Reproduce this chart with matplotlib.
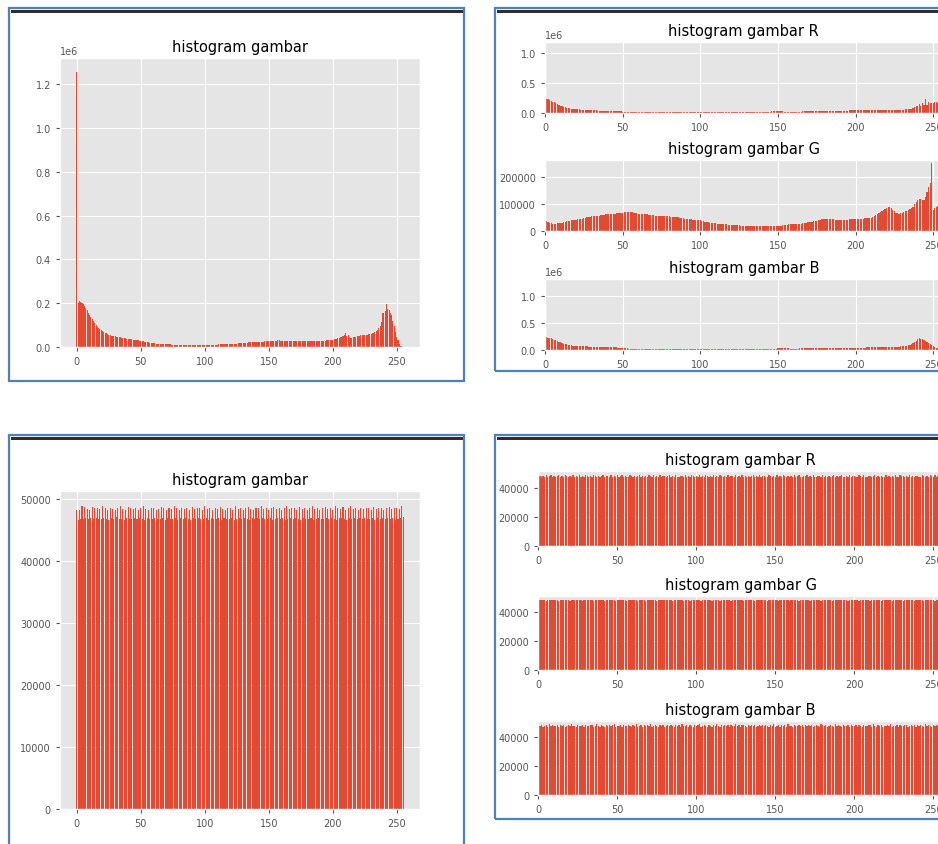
import matplotlib
matplotlib.use('Agg')
import matplotlib.pyplot as plt
from matplotlib.patches import Rectangle
import numpy as np

plt.style.use('ggplot')
plt.rcParams['font.family'] = ['DejaVu Sans']

# ---------------- data ----------------
x_ticks = [0, 50, 100, 150, 200, 250]

# grayscale histogram of original image (thousands of pixels)
gray_k = [1255,203,213,208,202,198,190,180,170,158,
147,138,130,120,110,100,93,87,82,77,
72,69,66,63,60,57,55,53,52,51,
50,49,48,47,46,44,43,42,41,40,
38,37,37,36,35,34,33,32,31,30,
29,28,27,26,25,23,22,21,20,19,
18,18,17,16,16,15,15,15,14,14,
14,13,13,13,12,12,12,12,11,11,
11,11,11,11,11,10,10,10,10,10,
10,10,10,10,10,10,10,10,10,10,
10,11,11,11,11,11,12,12,12,12,
12,13,13,13,13,14,14,14,15,15,
15,16,16,16,17,17,18,18,19,19,
20,20,21,21,22,22,23,23,24,24,
24,25,25,25,26,26,26,27,27,27,
28,28,28,29,29,30,30,31,31,30,
30,30,29,29,29,28,28,28,28,28,
27,27,27,27,27,27,27,27,27,27,
27,27,27,27,27,27,28,28,28,28,
29,29,30,30,30,31,31,32,32,33,
34,36,38,40,42,44,46,48,52,58,
66,50,58,45,44,44,45,46,48,50,
51,52,54,55,56,56,57,58,59,60,
62,64,66,70,74,78,88,95,115,158,
155,165,198,175,168,158,145,120,95,70,
48,32,16,8,4,2]

# R channel (thousands)
red_k = [250,242,232,220,206,192,178,163,149,136,
124,113,104,96,89,83,78,73,69,66,
63,61,59,57,55,53,51,49,47,46,
45,44,43,42,41,40,39,38,37,36,
35,34,33,32,31,30,29,28,27,26,
23,21,20,19,18,17,17,16,16,15,
15,14,14,14,13,13,13,13,12,12,
12,12,12,12,11,11,11,11,11,11,
11,11,11,11,11,11,11,11,11,11,
11,11,11,11,11,11,11,11,11,11,
11,11,11,12,12,12,12,12,12,12,
12,12,13,13,13,13,13,14,14,14,
14,15,15,15,16,16,16,17,17,17,
18,18,19,19,20,20,21,21,22,22,
23,23,24,24,25,25,26,26,26,27,
27,27,26,26,25,24,23,22,22,21,
21,21,22,23,24,25,26,27,28,29,
30,31,32,33,34,35,35,36,36,36,
36,36,36,35,35,35,35,36,36,37,
37,38,38,39,40,41,42,43,44,45,
46,47,48,49,50,50,51,52,52,53,
53,53,54,54,54,55,55,55,56,56,
56,56,56,57,57,57,57,58,58,58,
58,58,59,60,62,65,70,80,95,110,
120,150,110,160,140,230,130,190,175,170,
175,180,180,175,175,1125]

# G channel (thousands)
green_k = [42,38,33,30,28,27,27,27,28,29,
30,31,32,33,35,37,38,39,40,41,
42,43,44,45,46,48,49,50,51,52,
54,55,55,56,56,57,58,59,60,62,
62,63,63,64,64,64,65,66,67,68,
68,69,70,70,70,69,69,68,67,66,
64,64,63,63,62,62,61,60,59,58,
58,57,57,56,56,56,55,55,54,54,
54,53,53,52,52,51,50,49,48,47,
46,45,44,44,43,42,42,41,40,40,
40,38,36,34,33,32,31,30,29,28,
28,27,27,26,25,25,24,24,23,22,
22,22,21,21,21,21,20,20,19,19,
18,18,18,18,18,18,18,18,18,18,
18,18,18,18,18,18,18,18,18,18,
18,19,20,21,22,22,23,24,25,25,
25,26,26,27,27,27,28,29,31,32,
32,33,34,35,36,37,39,41,43,44,
44,44,44,43,43,43,43,42,42,42,
42,42,42,42,42,42,43,43,44,44,
44,45,45,45,46,46,47,47,47,48,
48,50,54,58,62,66,70,74,77,82,
86,89,89,84,79,72,67,65,64,65,
68,70,72,75,77,80,84,88,100,106,
114,116,116,113,114,126,142,163,175,249,
78,83,89,92,95,98]

# B channel (thousands)
blue_k = [225,228,222,215,208,198,188,175,160,150,
138,125,115,105,98,92,86,81,77,74,
72,70,68,66,64,62,61,60,58,57,
56,55,55,54,54,53,52,51,50,49,
48,47,46,45,44,43,41,39,37,34,
31,28,26,24,22,20,19,18,17,16,
15,15,14,14,13,13,13,12,12,12,
12,12,12,12,12,12,12,12,12,12,
13,13,13,13,13,13,13,13,13,13,
13,13,13,13,13,13,13,13,13,13,
13,13,13,13,13,13,13,13,13,13,
13,13,13,13,14,14,14,14,14,14,
14,14,14,15,15,15,15,15,15,15,
16,16,16,16,17,17,17,17,18,18,
18,19,19,19,20,20,20,21,21,22,
24,24,25,25,24,24,23,23,22,22,
22,22,22,22,23,23,23,23,24,24,
24,24,25,25,25,25,25,26,26,26,
26,26,26,27,27,27,27,27,28,28,
28,29,29,30,30,31,31,32,32,33,
34,35,36,37,38,39,40,41,42,43,
44,45,46,46,47,48,48,49,50,50,
51,52,53,54,55,56,57,58,59,60,
62,65,68,72,80,90,110,130,150,170,
195,216,205,190,180,170,150,125,100,80,
60,45,35,28,22,1250]

# equalized grayscale histogram (hundreds of pixels)
eq_gray_h = [483,466,482,467,488,468,487,469,484,468,483,470,487,467,485,470,
486,468,484,467,488,469,485,467,483,466,486,469,484,468,482,471,
485,467,488,468,484,466,483,470,487,468,485,467,484,469,486,468,
483,470,485,467,488,466,484,469,482,467,486,468,485,470,483,467,
484,468,487,469,485,466,483,470,486,467,484,468,488,469,485,466,
482,469,486,467,484,470,485,468,483,466,487,469,484,467,486,470,
485,468,483,467,488,469,484,466,486,470,483,468,485,467,484,469,
487,466,484,470,482,468,486,467,485,469,483,466,488,468,484,470,
486,467,483,469,485,468,487,466,484,470,483,467,486,469,485,468,
488,470,484,467,486,468,483,469,485,466,487,468,484,470,486,467,
483,469,485,466,488,467,484,470,486,468,485,469,483,467,487,466,
484,470,486,468,483,467,485,469,488,466,484,468,486,470,483,467,
485,468,487,469,484,467,486,470,483,468,488,466,485,469,484,470,
487,467,483,466,486,469,488,468,484,470,485,467,483,469,486,468,
484,470,486,467,485,468,483,469,487,466,484,470,486,467,485,469,
483,468,485,470,487,467,484,469,486,466,485,468,484,470,488,471]

# equalized R, G, B histograms (hundreds of pixels)
eq_red_h = [476,482,471,479,474,486,470,478,483,472,480,469,477,485,473,479,
471,484,476,470,481,475,487,472,478,470,483,474,479,471,486,476,
473,480,470,485,477,472,482,469,478,484,471,476,480,473,487,470,
479,474,483,471,476,486,470,481,475,472,484,478,470,482,474,477,
485,471,478,473,480,470,487,476,472,483,469,479,474,486,471,477,
482,470,476,484,473,479,471,485,475,470,481,477,472,486,474,478,
470,483,477,471,480,474,487,472,478,470,484,476,473,481,469,486,
475,479,471,483,476,470,482,474,485,472,477,480,470,484,473,478,
471,486,475,479,470,482,474,477,483,471,479,473,487,470,476,481,
474,470,484,477,472,480,469,486,475,478,471,483,476,470,482,474,
479,472,485,470,477,483,474,471,480,476,487,472,478,470,484,473,
470,481,476,474,486,471,479,473,482,470,477,485,472,478,471,480,
484,473,470,478,475,487,471,476,480,474,470,483,477,472,486,475,
472,479,482,470,476,484,473,478,471,481,475,470,485,474,479,472,
477,470,483,475,471,486,476,480,472,478,470,484,473,482,471,477,
481,474,470,485,477,472,479,470,483,476,473,486,471,478,475,480]

eq_green_h = [480,478,483,479,481,477,482,480,484,478,481,479,483,477,480,482,
478,481,479,484,477,480,482,478,481,479,483,480,477,482,479,481,
483,478,480,477,482,479,481,484,478,480,477,483,479,481,478,482,
480,477,481,479,484,478,482,480,477,481,479,483,478,480,482,477,
479,482,478,481,477,483,480,479,482,478,481,477,484,479,480,478,
481,479,483,478,480,477,482,481,479,484,478,480,477,482,479,481,
477,480,482,479,481,478,484,477,480,482,479,481,478,483,477,480,
482,478,480,477,483,479,481,478,482,480,477,484,479,481,478,480,
479,481,477,482,480,478,483,479,481,477,482,480,478,484,479,481,
480,477,483,479,481,482,478,480,477,483,479,481,482,478,480,477,
481,479,482,478,484,477,480,481,479,482,478,480,477,483,481,479,
478,482,480,477,481,479,483,478,480,482,477,481,479,484,478,480,
482,478,481,479,477,483,480,482,478,481,479,477,482,480,483,478,
479,481,477,484,480,478,481,479,482,477,480,483,478,481,479,482,
477,480,482,478,481,479,483,477,480,482,478,481,484,479,477,480,
481,478,480,483,477,481,479,482,478,480,483,477,481,479,482,480]

eq_blue_h = [479,474,485,471,477,482,470,486,475,480,472,478,484,471,479,473,
483,470,477,481,474,487,472,478,470,484,476,473,480,471,485,477,
472,479,483,470,476,486,474,471,481,478,470,484,475,479,472,482,
486,471,478,474,480,470,485,477,472,483,476,470,481,474,487,471,
477,483,470,479,475,481,472,486,470,478,483,474,471,480,476,484,
470,478,485,472,481,474,470,483,477,479,471,486,475,472,482,470,
480,476,471,484,473,479,487,470,478,482,474,471,485,477,470,481,
474,487,476,470,483,472,479,475,481,470,484,478,472,486,474,479,
471,480,484,477,470,482,475,479,472,485,470,477,483,474,480,472,
485,473,470,481,478,486,471,476,484,470,479,474,482,471,487,476,
478,470,483,475,472,480,477,485,470,481,474,479,472,484,470,477,
482,476,471,486,479,473,481,470,478,483,475,471,487,476,480,472,
470,484,478,472,481,470,485,477,474,479,471,483,476,470,482,478,
475,479,482,470,486,474,471,480,477,484,470,478,473,481,475,487,
471,478,474,483,470,481,476,472,485,479,470,477,482,474,480,471,
484,472,479,476,470,487,473,481,478,470,483,475,479,472,486,474]

for _s in (gray_k, red_k, green_k, blue_k, eq_gray_h, eq_red_h, eq_green_h, eq_blue_h):
    assert len(_s) == 256, len(_s)

# ---------------- figure ----------------
W, H = 938, 845
fig = plt.figure(figsize=(W / 100, H / 100), dpi=100)
fig.patch.set_facecolor('white')

FRAME = '#4f7fbf'
BAR_TOP = '#2e2e2e'
RED = '#E24A33'


def fbox(x0, y0, x1, y1):
    return [x0 / W, 1 - y1 / H, (x1 - x0) / W, (y1 - y0) / H]


def frame(x0, y0, x1, y1):
    l, b, w, h = fbox(x0, y0, x1, y1)
    fig.add_artist(Rectangle((l, b), w, h, transform=fig.transFigure,
                             fill=False, edgecolor=FRAME, linewidth=1.6, zorder=0))
    l2, b2, w2, h2 = fbox(x0 + 1.5, y0 + 1.5, x1 - 1.5, y0 + 5)
    fig.add_artist(Rectangle((l2, b2), w2, h2, transform=fig.transFigure,
                             facecolor=BAR_TOP, edgecolor='none', zorder=0))


frame(9, 9, 464, 382)
frame(495, 9, 960, 372)
frame(9, 436, 464, 870)
frame(495, 436, 960, 820)


def hist(box, vals, scale, title, yticks, full_x=False):
    ax = fig.add_axes(fbox(*box))
    xs = np.arange(len(vals))
    ax.bar(xs, np.array(vals) * scale, width=0.8, color=RED)
    ax.set_title(title, fontsize=10.5, color='black', pad=5)
    ax.set_xticks(x_ticks)
    ax.set_yticks(yticks)
    if full_x:
        ax.set_xlim(0, 256)
    ax.tick_params(labelsize=7, colors='#555555', length=3, width=0.8)
    ax.yaxis.get_offset_text().set_fontsize(7)
    ax.yaxis.get_offset_text().set_color('#555555')
    return ax


hist((60, 59, 420, 348.3), gray_k, 1000, 'histogram gambar',
     [0, 200000, 400000, 600000, 800000, 1000000, 1200000])

xr = 545 + 256 * 1.553
hist((545, 43.3, xr, 114), red_k, 1000, 'histogram gambar R', [0, 500000, 1000000], True)
hist((545, 161, xr, 232), green_k, 1000, 'histogram gambar G', [0, 100000, 200000], True)
hist((545, 280, xr, 350.7), blue_k, 1000, 'histogram gambar B', [0, 500000, 1000000], True)

hist((60, 492.3, 420, 810), eq_gray_h, 100, 'histogram gambar',
     [0, 10000, 20000, 30000, 40000, 50000])

xr2 = 538.3 + 256 * 1.58
hist((538.3, 472.3, xr2, 546.7), eq_red_h, 100, 'histogram gambar R', [0, 20000, 40000], True)
hist((538.3, 597, xr2, 671), eq_green_h, 100, 'histogram gambar G', [0, 20000, 40000], True)
hist((538.3, 721.7, xr2, 795.7), eq_blue_h, 100, 'histogram gambar B', [0, 20000, 40000], True)

fig.savefig('out.png', dpi=100, facecolor='white')
